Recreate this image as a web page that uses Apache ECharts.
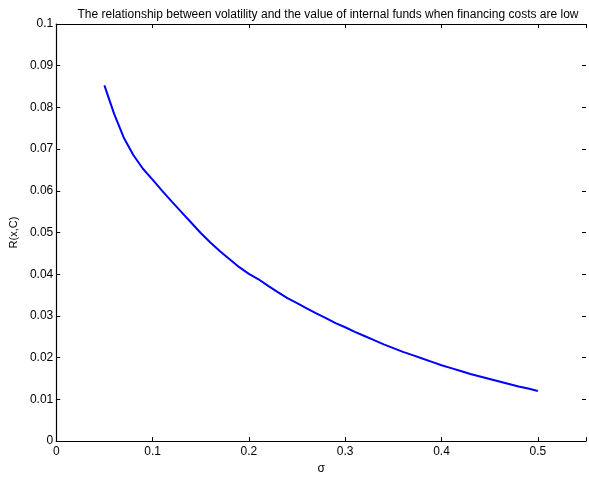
<!DOCTYPE html>
<html>
<head>
<meta charset="utf-8">
<script src="https://cdn.jsdelivr.net/npm/echarts@6/dist/echarts.min.js"></script>
<style>html,body{margin:0;padding:0;background:#fff}#c{width:589px;height:480px}</style>
</head>
<body>
<div id="c"></div>
<script>
const sigma = [0.05,0.06,0.07,0.08,0.09,0.10,0.11,0.12,0.13,0.14,0.15,0.16,0.17,0.18,0.19,0.20,0.21,0.22,0.23,0.24,0.25,0.26,0.27,0.28,0.29,0.30,0.31,0.32,0.33,0.34,0.35,0.36,0.37,0.38,0.39,0.40,0.41,0.42,0.43,0.44,0.45,0.46,0.47,0.48,0.49,0.50];
const R = [0.0853,0.0785,0.0728,0.0686,0.0653,0.0627,0.0600,0.0574,0.0549,0.0524,0.0499,0.0476,0.0455,0.0436,0.0417,0.0401,0.0388,0.0372,0.0357,0.0343,0.0331,0.0318,0.0306,0.0295,0.0283,0.0273,0.0262,0.0252,0.0242,0.0232,0.0223,0.0214,0.0206,0.0198,0.0190,0.0182,0.0175,0.0168,0.0161,0.0155,0.0149,0.0143,0.0137,0.0131,0.0126,0.0120];
const xTicks = ['0','0.1','0.2','0.3','0.4','0.5'];
const yTicks = ['0','0.01','0.02','0.03','0.04','0.05','0.06','0.07','0.08','0.09','0.1'];
const titleText = 'The relationship between volatility and the value of internal funds when financing costs are low';

const font = 'Helvetica, "Liberation Sans", Arial, sans-serif';
const chart = echarts.init(document.getElementById('c'), null, {renderer: 'canvas'});
const axisCommon = {
  axisLine: {show: true, onZero: false, lineStyle: {color: '#000', width: 1.2}},
  axisTick: {show: true, inside: true, length: 4, lineStyle: {color: '#000', width: 1}},
  splitLine: {show: false}
};
chart.setOption({
  animation: false,
  backgroundColor: '#fff',
  title: {
    text: titleText, left: 323, top: 4, textAlign: 'center',
    textStyle: {fontFamily: font, fontSize: 12, fontWeight: 'normal', color: '#000'}
  },
  grid: {left: 54.5, top: 24, width: 536, height: 423.3, containLabel: false},
  xAxis: [
    Object.assign({
      type: 'value', position: 'bottom', min: 0, max: 0.55, interval: 0.1,
      name: 'σ', nameLocation: 'middle', nameGap: 19,
      nameTextStyle: {fontFamily: font, fontSize: 12, color: '#000'},
      axisLabel: {
        margin: 5, fontFamily: font, fontSize: 12, color: '#000',
        formatter: function (v) { const i = Math.round(v * 10); return (i >= 0 && i < xTicks.length && Math.abs(v - i / 10) < 1e-9) ? xTicks[i] : ''; }
      }
    }, axisCommon),
    Object.assign({
      type: 'value', position: 'top', min: 0, max: 0.55, interval: 0.1,
      axisLabel: {show: false}
    }, axisCommon)
  ],
  yAxis: [
    Object.assign({
      type: 'value', position: 'left', min: 0, max: 0.1, interval: 0.01,
      name: 'R(x,C)', nameLocation: 'middle', nameGap: 31,
      nameTextStyle: {fontFamily: font, fontSize: 11, color: '#000'},
      axisLabel: {
        margin: 3, fontFamily: font, fontSize: 12, color: '#000',
        formatter: function (v) { const i = Math.round(v * 100); return yTicks[i] !== undefined ? yTicks[i] : ''; }
      }
    }, axisCommon),
    Object.assign({
      type: 'value', position: 'right', min: 0, max: 0.1, interval: 0.01,
      axisLabel: {show: false}
    }, axisCommon, {axisLine: {show: false, onZero: false}})
  ],
  series: [{
    type: 'line',
    xAxisIndex: 0, yAxisIndex: 0,
    data: sigma.map((s, i) => [s, R[i]]),
    showSymbol: false, symbol: 'none',
    lineStyle: {color: '#0000ff', width: 2},
    smooth: false
  }]
});
</script>
</body>
</html>
